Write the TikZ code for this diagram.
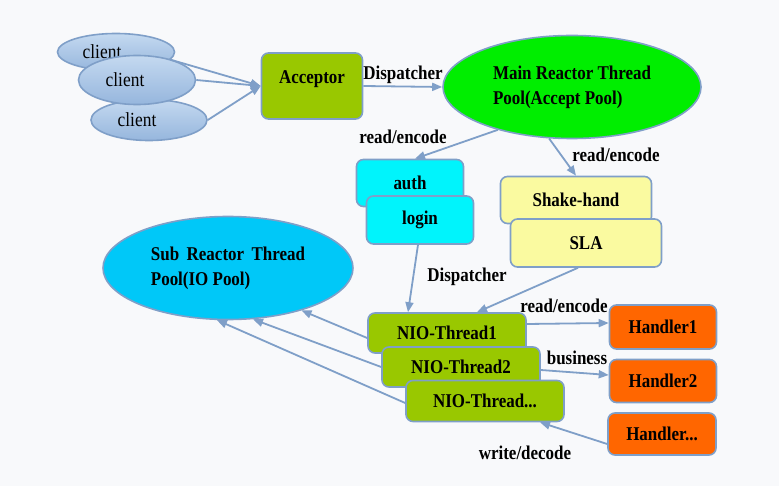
\documentclass[tikz,border=0pt]{standalone}
\usepackage{fontspec}
\setmainfont{Liberation Serif}[FakeStretch=0.87]
\usetikzlibrary{arrows.meta,shapes.geometric}
\definecolor{bg}{HTML}{F8F9FB}
\definecolor{edge}{HTML}{7F9FC8}
\definecolor{cliTop}{HTML}{C4D9F0}
\definecolor{cliBot}{HTML}{96B6DD}
\definecolor{olive}{HTML}{99C800}
\definecolor{bgreen}{HTML}{00EE00}
\definecolor{cyanbox}{HTML}{00F4FC}
\definecolor{ybox}{HTML}{FAFAA0}
\definecolor{skyell}{HTML}{00C8F8}
\definecolor{orng}{HTML}{FF6600}
\begin{document}
\begin{tikzpicture}[x=1pt,y=-1pt,
  bfont/.style={font=\fontsize{19.5}{25}\selectfont\bfseries},
  box/.style={draw=edge, line width=1.6pt, rounded corners=7pt, inner sep=0pt, bfont},
  ell/.style={ellipse, draw=edge, line width=1.6pt, inner sep=0pt},
  cli/.style={ell, top color=cliTop, bottom color=cliBot, font=\fontsize{20}{22}\selectfont},
  conn/.style={draw=edge, line width=1.8pt, -{Triangle[length=10pt,width=8pt]}},
  lbl/.style={bfont, inner sep=0pt}]
\fill[bg] (0,0) rectangle (779,486);
\useasboundingbox (0,0) rectangle (779,486);

% clients
\node[cli, minimum width=117pt, minimum height=37pt] (c1) at (116,52) {\hspace*{-28pt}client};
\node[cli, minimum width=116pt, minimum height=41pt] (c3) at (149,120) {\hspace*{-24pt}client};
\node[cli, minimum width=117pt, minimum height=49pt] (c2) at (137,80) {\hspace*{-24pt}client};

% acceptor and main reactor
\node[box, fill=olive, minimum width=101pt, minimum height=66pt,
      label={[lbl,yshift=7pt]center:Acceptor}] (acc) at (312,86) {};
\node[ell, fill=bgreen, minimum width=258pt, minimum height=103pt, bfont, align=left] (main) at (572,87)
  {Main Reactor Thread\\Pool(Accept Pool)};

% auth / login
\node[box, fill=cyanbox, minimum width=107pt, minimum height=47pt] (auth) at (410,183) {auth};
\node[box, fill=cyanbox, minimum width=107pt, minimum height=48pt] (login) at (420,220) {login};

% shake-hand / SLA
\node[box, fill=ybox, minimum width=151pt, minimum height=47pt] (shake) at (576,200) {Shake-hand};
\node[box, fill=ybox, minimum width=151pt, minimum height=48pt] (sla) at (586,243) {SLA};

% sub reactor
\node[ell, fill=skyell, minimum width=250pt, minimum height=103pt, bfont, align=left] (sub) at (228,268)
  {Sub\hspace{7.5pt}Reactor\hspace{7.5pt}Thread\\Pool(IO Pool)};

% NIO threads
\node[box, fill=olive, minimum width=158pt, minimum height=40pt] (nio1) at (447,333) {NIO-Thread1};
\node[box, fill=olive, minimum width=158pt, minimum height=40pt] (nio2) at (461,367) {NIO-Thread2};
\node[box, fill=olive, minimum width=158pt, minimum height=41pt] (nio3) at (485,401) {NIO-Thread...};

% handlers
\node[box, fill=orng, minimum width=107pt, minimum height=44pt] (h1) at (663,327) {Handler1};
\node[box, fill=orng, minimum width=107pt, minimum height=43pt] (h2) at (663,381) {Handler2};
\node[box, fill=orng, minimum width=108pt, minimum height=42pt] (h3) at (662,434) {Handler...};

% labels
\node[lbl] (ldisp1) at (403,75) {Dispatcher};
\node[lbl] (lre1) at (403,137) {read/encode};
\node[lbl] (lre2) at (616,155) {read/encode};
\node[lbl] (ldisp2) at (467,277) {Dispatcher};
\node[lbl] (lre3) at (564,306) {read/encode};
\node[lbl] (lbus) at (577,358) {business};
\node[lbl] (lwd) at (525,453) {write/decode};

% connectors
\draw[conn] (c1.-8) -- (acc.west);
\draw[conn] (c2.east) -- (acc.west);
\draw[conn] (c3.east) -- (acc.west);
\draw[conn] (acc.east) -- (main.west);
\draw[conn] (main.210) -- ([xshift=5pt]auth.north);
\draw[conn] (main.246.7) -- (shake.north);
\draw[conn] ([xshift=-2pt]login.south) -- ([xshift=-39pt]nio1.north);
\draw[conn] ([xshift=-8pt]sla.south) -- ([xshift=30pt]nio1.north);
\draw[conn] ([yshift=-5pt]nio1.west) -- (sub.330.6);
\draw[conn] (nio2.west) -- (sub.296.6);
\draw[conn] ([yshift=-2pt]nio3.west) -- (sub.258.5);
\draw[conn] ([yshift=9pt]nio1.east) -- ([yshift=4pt]h1.west);
\draw[conn] ([yshift=-3pt]nio2.east) -- ([yshift=6pt]h2.west);
\draw[conn] ([yshift=-10pt]h3.west) -- ([xshift=55pt]nio3.south);
\end{tikzpicture}
\end{document}
